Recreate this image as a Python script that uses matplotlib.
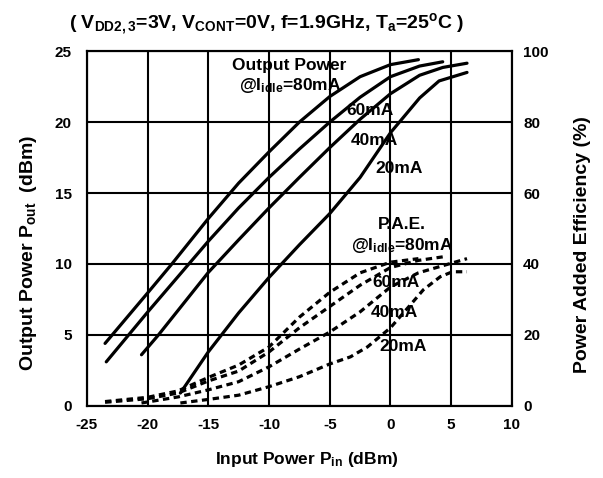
import matplotlib
matplotlib.use("Agg")
import matplotlib.pyplot as plt

plt.rcParams['font.family'] = ['Liberation Sans', 'DejaVu Sans']
plt.rcParams['font.weight'] = 'bold'
plt.rcParams['axes.unicode_minus'] = False
plt.rcParams['mathtext.fontset'] = 'custom'
plt.rcParams['mathtext.rm'] = 'Liberation Sans:bold'
plt.rcParams['mathtext.it'] = 'Liberation Sans:bold'
plt.rcParams['mathtext.bf'] = 'Liberation Sans:bold'

# Output power curves (left axis, dBm)
pin_out_80 = [-23.5, -20, -18, -15, -12.5, -10, -7.5, -5, -2.5, 0, 2.3]
pout_80 = [4.4, 7.95, 10.0, 13.2, 15.7, 17.9, 20.0, 21.8, 23.2, 24.05, 24.4]
pin_out_60 = [-23.4, -20, -16.6, -15, -12.5, -10, -7.5, -5, -2.5, 0, 2.4, 4.3]
pout_60 = [3.1, 6.6, 10.0, 11.6, 13.95, 16.1, 18.1, 20.0, 21.75, 23.2, 23.95, 24.25]
pin_out_40 = [-20.5, -19.1, -15, -12.5, -10, -7.5, -5, -2.5, 0, 2.4, 4.3, 6.3]
pout_40 = [3.6, 5.0, 9.4, 11.7, 13.95, 16.1, 18.2, 20.2, 22.0, 23.3, 23.85, 24.15]
pin_out_20 = [-17.3, -15, -12.5, -10, -7.5, -5, -2.5, 0, 2.4, 4.0, 6.3]
pout_20 = [0.9, 3.8, 6.55, 9.05, 11.35, 13.55, 16.1, 19.25, 21.7, 22.9, 23.5]

# Power added efficiency curves (right axis, %)
pin_pae_80 = [-23.5, -20, -17.5, -15, -12.5, -10, -7.5, -5, -2.5, 0, 2.3]
pae_80 = [1.2, 2.4, 4.2, 8.0, 11.5, 16.6, 25, 32, 37.5, 40.5, 41.5]
pin_pae_60 = [-23.5, -20, -17.5, -15, -12.5, -10, -7.5, -5, -2.5, 0, 2.3, 4.3]
pae_60 = [1.0, 2.0, 3.6, 7.0, 9.8, 15.2, 22, 28, 34, 39, 41, 42]
pin_pae_40 = [-20.5, -17.5, -15, -12.5, -10, -7.5, -5, -2.5, 0, 2.3, 4.3, 6.3]
pae_40 = [0.8, 2.5, 4.5, 6.8, 11.0, 16.0, 20.8, 26.5, 33.5, 37.5, 39.5, 41.5]
pin_pae_20 = [-17.3, -15, -12.5, -10, -7.5, -5, -3.3, -1.9, 0, 2.0, 2.7, 4.1, 5.1, 6.3]
pae_20 = [0.8, 1.8, 3.0, 5.4, 8.2, 11.8, 13.8, 16.6, 22, 29.9, 32.7, 36.4, 37.8, 37.8]

fig = plt.figure(figsize=(6.03, 4.78), dpi=100)
ax = fig.add_axes([0.144, 0.151, 0.705, 0.742])
ax2 = ax.twinx()

ax.set_xlim(-25, 10)
ax.set_ylim(0, 25)
ax2.set_ylim(0, 100)
ax.set_xticks(range(-25, 11, 5))
ax.set_yticks(range(0, 26, 5))
ax2.set_yticks(range(0, 101, 20))
ax.grid(True, color='black', lw=1.5)
ax.set_axisbelow(True)
for a in (ax, ax2):
    for s in a.spines.values():
        s.set_linewidth(1.5)
ax.tick_params(length=0, labelsize=11)
ax.tick_params(axis='y', pad=11)
ax.tick_params(axis='x', pad=9)
ax2.tick_params(length=0, labelsize=11, pad=8)

lw = 2.3
for x, y in [(pin_out_80, pout_80), (pin_out_60, pout_60),
             (pin_out_40, pout_40), (pin_out_20, pout_20)]:
    ax.plot(x, y, color='black', lw=lw, solid_capstyle='round', solid_joinstyle='round')
for x, y in [(pin_pae_80, pae_80), (pin_pae_60, pae_60),
             (pin_pae_40, pae_40), (pin_pae_20, pae_20)]:
    ax2.plot(x, y, color='black', lw=lw, linestyle=(0, (2.0, 1.4)))

fs = 12.5
ax.text(-8.3, 24.0, "Output Power", ha='center', va='center', fontsize=fs)
ax.text(-8.3, 22.6, r"@I$_{idle}$=80mA", ha='center', va='center', fontsize=fs)
ax.text(-1.7, 20.85, "60mA", ha='center', va='center', fontsize=fs)
ax.text(-1.35, 18.7, "40mA", ha='center', va='center', fontsize=fs)
ax.text(0.7, 16.7, "20mA", ha='center', va='center', fontsize=fs)
ax.text(0.95, 12.75, "P.A.E.", ha='center', va='center', fontsize=fs)
ax.text(0.95, 11.3, r"@I$_{idle}$=80mA", ha='center', va='center', fontsize=fs)
ax.text(0.45, 8.7, "60mA", ha='center', va='center', fontsize=fs)
ax.text(0.3, 6.6, "40mA", ha='center', va='center', fontsize=fs)
ax.text(1.0, 4.2, "20mA", ha='center', va='center', fontsize=fs)

ax.set_ylabel(r"Output Power P$_{out}$  (dBm)", fontsize=14, fontweight='bold')
ax.yaxis.set_label_coords(-0.113, 0.43)
ax.set_xlabel(r"Input Power P$_{in}$ (dBm)", fontsize=12.5, fontweight='bold')
ax.xaxis.set_label_coords(0.518, -0.125)
ax2.set_ylabel("Power Added Efficiency (%)", fontsize=14, fontweight='bold')
ax2.yaxis.set_label_coords(1.146, 0.455)

fig.text(0.443, 0.941, r"( V$_{DD2,3}$=3V, V$_{CONT}$=0V, f=1.9GHz, T$_a$=25$^o$C )",
         ha='center', va='baseline', fontsize=14)

fig.savefig("out.png", dpi=100)
